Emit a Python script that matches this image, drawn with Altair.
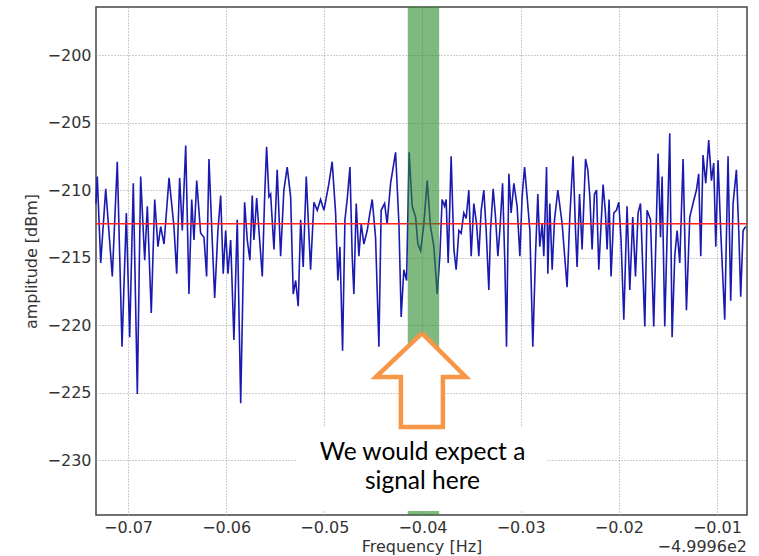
import altair as alt
import pandas as pd

# ---- data ----
freq = [-0.07326, -0.07313, -0.07278, -0.07227, -0.07160, -0.07109, -0.07061, -0.07017, -0.06983, -0.06946,
        -0.06905, -0.06871, -0.06830, -0.06803, -0.06763, -0.06728, -0.06695, -0.06667, -0.06633, -0.06582,
        -0.06532, -0.06504, -0.06474, -0.06447, -0.06412, -0.06379, -0.06351, -0.06328, -0.06300, -0.06260,
        -0.06226, -0.06199, -0.06175, -0.06142, -0.06117, -0.06084, -0.06056, -0.06030, -0.06005, -0.05982,
        -0.05954, -0.05921, -0.05887, -0.05852, -0.05812, -0.05785, -0.05758, -0.05734, -0.05717, -0.05689,
        -0.05666, -0.05632, -0.05608, -0.05588, -0.05564, -0.05547, -0.05513, -0.05480, -0.05445, -0.05412,
        -0.05378, -0.05343, -0.05317, -0.05292, -0.05266, -0.05241, -0.05215, -0.05184, -0.05140, -0.05106,
        -0.05072, -0.05038, -0.05004, -0.04953, -0.04920, -0.04885, -0.04862, -0.04841, -0.04814, -0.04790,
        -0.04767, -0.04739, -0.04716, -0.04699, -0.04675, -0.04648, -0.04624, -0.04597, -0.04563, -0.04536,
        -0.04512, -0.04478, -0.04444, -0.04421, -0.04386, -0.04360, -0.04325, -0.04274, -0.04240, -0.04217,
        -0.04190, -0.04162, -0.04136, -0.04105, -0.04070, -0.04047, -0.04019, -0.03986, -0.03952, -0.03918,
        -0.03884, -0.03850, -0.03823, -0.03800, -0.03775, -0.03759, -0.03738, -0.03708, -0.03680, -0.03657,
        -0.03629, -0.03606, -0.03579, -0.03555, -0.03528, -0.03504, -0.03477, -0.03449, -0.03426, -0.03402,
        -0.03375, -0.03351, -0.03324, -0.03307, -0.03280, -0.03256, -0.03232, -0.03212, -0.03184, -0.03161,
        -0.03144, -0.03120, -0.03097, -0.03069, -0.03036, -0.03008, -0.02985, -0.02960, -0.02934, -0.02906,
        -0.02876, -0.02848, -0.02825, -0.02805, -0.02781, -0.02764, -0.02736, -0.02723, -0.02703, -0.02679,
        -0.02655, -0.02621, -0.02577, -0.02527, -0.02499, -0.02466, -0.02441, -0.02425, -0.02400, -0.02374,
        -0.02339, -0.02316, -0.02295, -0.02272, -0.02248, -0.02227, -0.02204, -0.02160, -0.02136, -0.02119,
        -0.02099, -0.02079, -0.02051, -0.02024, -0.02000, -0.01977, -0.01949, -0.01916, -0.01888, -0.01858,
        -0.01830, -0.01804, -0.01779, -0.01735, -0.01712, -0.01677, -0.01644, -0.01600, -0.01575, -0.01559,
        -0.01532, -0.01481, -0.01457, -0.01430, -0.01406, -0.01379, -0.01345, -0.01311, -0.01277, -0.01244,
        -0.01209, -0.01186, -0.01165, -0.01142, -0.01114, -0.01084, -0.01056, -0.01033, -0.01012, -0.00989,
        -0.00962, -0.00921, -0.00887, -0.00860, -0.00836, -0.00802, -0.00778, -0.00758, -0.00734, -0.00707]

amplitude = [-211.0, -209.0, -215.4, -209.9, -216.4, -207.9, -221.6, -211.7, -220.9, -209.5,
             -225.1, -209.0, -215.2, -211.2, -219.1, -210.7, -214.2, -212.7, -214.0, -209.1,
             -212.7, -216.2, -209.1, -213.0, -206.7, -217.7, -210.7, -213.7, -209.3, -213.2,
             -213.5, -216.4, -207.7, -213.7, -218.0, -213.0, -210.4, -216.2, -213.0, -216.2,
             -213.7, -221.1, -212.2, -225.8, -210.9, -213.7, -215.2, -210.4, -213.7, -210.6,
             -213.0, -216.4, -210.5, -206.8, -210.5, -210.3, -214.4, -208.5, -214.9, -210.0,
             -208.3, -210.5, -217.7, -216.7, -218.6, -212.2, -215.7, -209.0, -215.9, -210.9,
             -211.5, -210.7, -211.5, -209.5, -207.9, -211.7, -216.7, -214.2, -221.9, -212.2,
             -210.7, -208.3, -214.9, -217.7, -211.0, -214.9, -212.5, -214.0, -213.0, -211.7,
             -210.7, -213.5, -221.6, -211.5, -211.0, -212.5, -209.5, -207.2, -212.5, -219.4,
             -215.9, -216.7, -207.2, -211.2, -212.0, -214.0, -214.5, -212.5, -209.3, -212.7,
             -214.2, -217.7, -214.9, -210.7, -211.2, -210.7, -215.4, -207.5, -214.4, -215.9,
             -213.0, -213.2, -211.7, -212.1, -210.0, -214.9, -211.0, -212.5, -214.9, -211.5,
             -210.0, -213.0, -217.4, -213.0, -209.9, -212.0, -214.9, -213.0, -209.5, -215.4,
             -221.6, -208.8, -211.7, -209.5, -211.2, -214.9, -210.5, -208.3, -210.5, -213.0,
             -221.6, -214.7, -210.3, -214.2, -212.5, -214.9, -208.3, -216.2, -211.0, -215.9,
             -212.2, -210.0, -212.5, -217.2, -212.0, -207.5, -213.0, -215.7, -210.3, -214.4,
             -207.7, -208.5, -210.5, -214.4, -210.3, -210.0, -215.9, -209.6, -211.7, -214.4,
             -210.7, -216.4, -211.7, -211.5, -210.9, -213.7, -219.6, -211.2, -217.4, -212.0,
             -216.4, -211.7, -211.0, -220.1, -211.5, -212.2, -220.1, -207.3, -213.5, -209.0,
             -220.1, -205.8, -220.9, -214.9, -213.0, -215.4, -207.7, -218.9, -212.0, -211.0,
             -210.0, -208.8, -214.9, -207.4, -209.5, -206.3, -209.3, -208.0, -214.2, -207.8,
             -213.0, -219.6, -207.5, -218.2, -211.0, -208.5, -213.0, -217.9, -213.0, -212.7]

noise_floor = [-212.5]
band_start = [-0.0415]
band_end = [-0.0383]

x_domain = [-0.07326, -0.00694]
y_domain = [-234.07, -196.44]
x_ticks = [-0.07, -0.06, -0.05, -0.04, -0.03, -0.02, -0.01]
y_ticks = [-230, -225, -220, -215, -210, -205, -200]

# annotation: arrow outline (closed polygon) and text box
arrow_x = [-0.04005, -0.03558, -0.03792, -0.03792, -0.0422, -0.0422, -0.04475, -0.04005]
arrow_y = [-220.6, -223.85, -223.85, -227.56, -227.56, -223.85, -223.85, -220.6]
head_x = [-0.04475, -0.04005, -0.03558]
head_top = [-223.85, -220.6, -223.85]
head_base = [-223.85, -223.85, -223.85]
shaft_x = [-0.0422]
shaft_x2 = [-0.03792]
shaft_y = [-223.85]
shaft_y2 = [-227.56]
box_x = [-0.05279]
box_x2 = [-0.02733]
box_y = [-227.56]
box_y2 = [-233.78]
note_x = [-0.04, -0.04]
note_y = [-229.45, -231.65]
note_text = ["We would expect a", "signal here"]
offset_label = "\u22124.9996e2"

# ---- tables ----
spec = pd.DataFrame({"freq": freq, "amp": amplitude})
floor_df = pd.DataFrame({"amp": noise_floor})
band_df = pd.DataFrame({"x": band_start, "x2": band_end})
arrow_df = pd.DataFrame({"x": arrow_x, "y": arrow_y, "o": list(range(len(arrow_x)))})
head_df = pd.DataFrame({"x": head_x, "y": head_top, "y2": head_base})
shaft_df = pd.DataFrame({"x": shaft_x, "x2": shaft_x2, "y": shaft_y, "y2": shaft_y2})
box_df = pd.DataFrame({"x": box_x, "x2": box_x2, "y": box_y, "y2": box_y2})
note_df = pd.DataFrame({"x": note_x, "y": note_y, "t": note_text})

xs = alt.Scale(domain=x_domain, nice=False, zero=False)
ys = alt.Scale(domain=y_domain, nice=False, zero=False)

x_axis = alt.Axis(values=x_ticks, format=".2f", title="Frequency [Hz]", grid=True,
                  ticks=False, domain=False, labelPadding=4, titlePadding=3)
y_axis = alt.Axis(values=y_ticks, format="d", title="amplitude [dBm]", grid=True,
                  ticks=False, domain=False, labelPadding=5, titlePadding=8)

line = alt.Chart(spec).mark_line(color="#1a1ab0", strokeWidth=1.6).encode(
    x=alt.X("freq:Q", scale=xs, axis=x_axis),
    y=alt.Y("amp:Q", scale=ys, axis=y_axis),
)

floor = alt.Chart(floor_df).mark_rule(color="#ff2020", strokeWidth=1.5).encode(
    y=alt.Y("amp:Q", scale=ys)
)

band = alt.Chart(band_df).mark_rect(color="#2a8a2a", opacity=0.6).encode(
    x=alt.X("x:Q", scale=xs), x2="x2:Q"
)

box = alt.Chart(box_df).mark_rect(color="white").encode(
    x=alt.X("x:Q", scale=xs), x2="x2:Q", y=alt.Y("y:Q", scale=ys), y2="y2:Q"
)

head_fill = alt.Chart(head_df).mark_area(color="white", opacity=1).encode(
    x=alt.X("x:Q", scale=xs), y=alt.Y("y:Q", scale=ys), y2="y2:Q"
)

shaft_fill = alt.Chart(shaft_df).mark_rect(color="white").encode(
    x=alt.X("x:Q", scale=xs), x2="x2:Q", y=alt.Y("y:Q", scale=ys), y2="y2:Q"
)

arrow = alt.Chart(arrow_df).mark_line(color="#f79646", strokeWidth=4.5, strokeJoin="miter").encode(
    x=alt.X("x:Q", scale=xs), y=alt.Y("y:Q", scale=ys), order="o:Q"
)

note = alt.Chart(note_df).mark_text(font="Lato", fontSize=24.5, color="black",
                                    align="center", baseline="middle").encode(
    x=alt.X("x:Q", scale=xs), y=alt.Y("y:Q", scale=ys), text="t:N"
)

offset = alt.Chart(pd.DataFrame({"t": [offset_label]})).mark_text(
    font="DejaVu Sans", fontSize=16, color="#333333", align="right", baseline="alphabetic"
).encode(x=alt.value(651), y=alt.value(545), text="t:N")

chart = alt.layer(line, floor, band, box, head_fill, shaft_fill, arrow, note, offset).properties(
    width=651, height=508,
    padding={"left": 96, "top": 7, "right": 12, "bottom": 41},
    autosize="none",
    background="white",
).configure_view(
    stroke="#444444", strokeWidth=1.5
).configure_axis(
    labelFont="DejaVu Sans", labelFontSize=16, labelColor="#333333",
    titleFont="DejaVu Sans", titleFontSize=16, titleColor="#333333", titleFontWeight="normal",
    gridColor="#9a9a9a", gridDash=[1, 2], gridWidth=1
)

chart.save("out.html", embed_options={"renderer": "svg", "actions": False})
